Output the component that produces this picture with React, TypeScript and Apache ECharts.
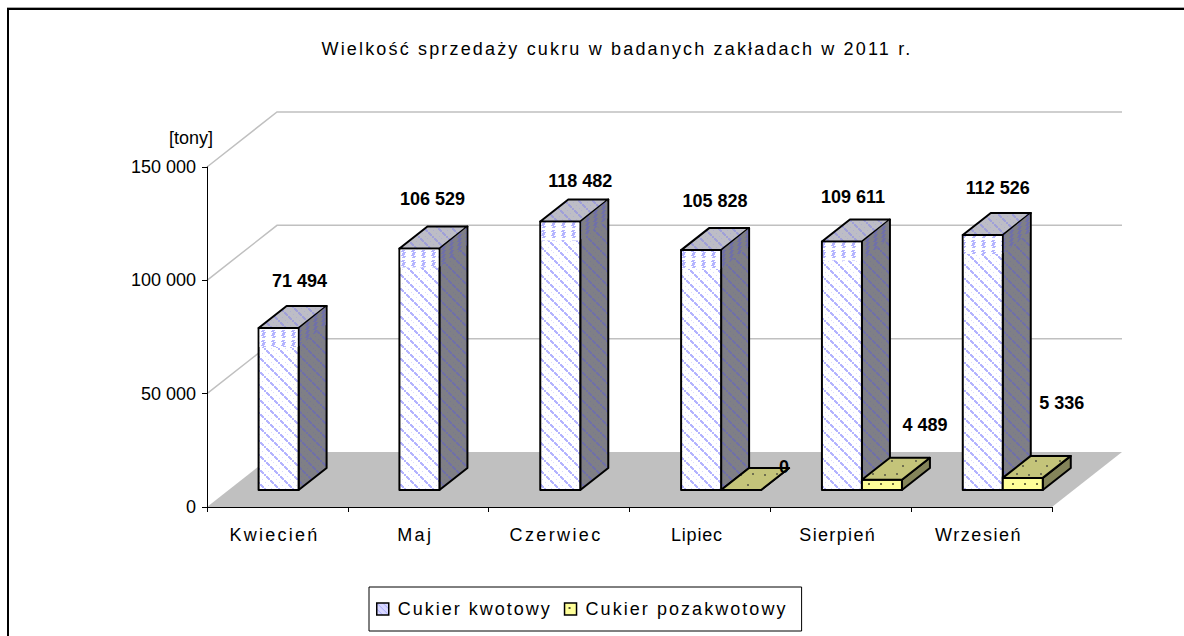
import React, { useEffect, useRef } from "react";
import * as echarts from "echarts";

const categories = ["Kwiecień", "Maj", "Czerwiec", "Lipiec", "Sierpień", "Wrzesień"];
const kwotowy = [71494, 106529, 118482, 105828, 109611, 112526];
const pozakwotowy = [null, null, null, 0, 4489, 5336];
const yTicks = [0, 50000, 100000, 150000];
const seriesNames = ["Cukier kwotowy", "Cukier pozakwotowy"];
const titleText = "Wielkość sprzedaży cukru w badanych zakładach w 2011 r.";

// label nudges relative to the bar's front top-right corner (hand placed in the original)
const nudgeA = [[1, -47], [-7, -50], [0, -40], [-6, -49], [-9, -45], [-5, -47]];
const nudgeB = [[0, 0], [0, 0], [0, 0], [23, -23], [23, -55], [19, -75]];

const WALL_DX = 70, WALL_DY = 55, FRONT_DX = 21.6, FRONT_DY = 17, GAP = 30, BAR_W = 40, D_X = 28, D_Y = 22;

function tile(size: number, bg: string, draw: (c: CanvasRenderingContext2D) => void) {
  const cv = document.createElement("canvas");
  cv.width = size; cv.height = size;
  const c = cv.getContext("2d")!;
  c.fillStyle = bg; c.fillRect(0, 0, size, size);
  draw(c);
  return { image: cv, repeat: "repeat", imageWidth: size, imageHeight: size } as any;
}
const diag = (main: string, soft: string) => (c: CanvasRenderingContext2D) => {
  for (let i = 0; i < 14; i++) {
    c.fillStyle = main;
    if (i % 4 !== 3) c.fillRect(i, i, 2, 2);
    c.fillStyle = soft;
    if (i % 3 === 0) c.fillRect((i + 7) % 14, i, 1, 1);
  }
};
const wave = (main: string) => (c: CanvasRenderingContext2D) => {
  c.fillStyle = main;
  for (let y = 0; y < 8; y += 2) {
    const o = y % 4 === 0 ? 0 : 1;
    c.fillRect(2 + o, y, 3, 1);
    c.fillRect(1 + o, y + 1, 3, 1);
  }
};
const dots = (color: string, pts: number[][]) => (c: CanvasRenderingContext2D) => {
  c.fillStyle = color;
  pts.forEach(([x, y]) => c.fillRect(x, y, 2, 2));
};

export default function App() {
  const ref = useRef<HTMLDivElement>(null);
  useEffect(() => {
    const chart = echarts.init(ref.current!, null, { renderer: "svg" });
    const P = {
      front: tile(14, "#ffffff", diag("#b4b4ff", "#dcdcff")),
      frontTop: tile(10, "#ffffff", wave("#b4b4ff")),
      top: tile(14, "#bdbdc6", diag("#a0a0d8", "#b0b0d0")),
      side: tile(14, "#7f7f86", diag("#7070a8", "#787890")),
      sideTop: tile(8, "#7f7f86", wave("#7070a8")),
      oFront: tile(24, "#ffff99", dots("#707040", [[4, 3], [16, 3]])),
      oTop: tile(24, "#c4c47a", dots("#707050", [[3, 4], [14, 9], [20, 18], [8, 17]])),
      oSide: tile(24, "#84845a", dots("#606040", [[5, 5], [15, 15]])),
      legendA: tile(6, "#d8d8ff", (c) => { c.fillStyle = "#a8a8ff"; for (let i = 0; i < 6; i++) c.fillRect(i, i, 1, 1); }),
      legendB: tile(10, "#ffff99", dots("#505030", [[4, 4]])),
    };
    const poly = (pts: number[][], fill: any, z = 0) => ({
      type: "polygon", z2: z, shape: { points: pts },
      style: { fill, stroke: "#000", lineWidth: 2, lineJoin: "round" },
    });

    const barRender = (idx: number, nudge: number[][]) => (params: any, api: any) => {
      const cat = api.value(0), val = api.value(1);
      const base = api.coord([cat, 0]);
      const topPt = api.coord([cat, val]);
      const bw = api.size([1, 0])[0];
      const x0 = base[0] - bw / 2 + FRONT_DX + GAP + idx * BAR_W;
      const x1 = x0 + BAR_W;
      const y0 = base[1] - FRONT_DY;
      const y1 = topPt[1] - FRONT_DY;
      const children: any[] = [];
      const a = idx === 0;
      children.push(poly([[x1, y0], [x1 + D_X, y0 - D_Y], [x1 + D_X, y1 - D_Y], [x1, y1]], a ? P.side : P.oSide));
      if (y0 - y1 > 0.5) children.push(poly([[x0, y0], [x1, y0], [x1, y1], [x0, y1]], a ? P.front : P.oFront));
      children.push(poly([[x0, y1], [x1, y1], [x1 + D_X, y1 - D_Y], [x0 + D_X, y1 - D_Y]], a ? P.top : P.oTop));
      if (a) {
        children.push({ type: "rect", shape: { x: x0 + 1, y: y1 + 1, width: BAR_W - 2, height: 18 }, style: { fill: P.frontTop } });
        children.push({ type: "polygon", shape: { points: [[x1 + 1, y1], [x1 + D_X - 1, y1 - D_Y + 1], [x1 + D_X - 1, y1 - D_Y + 19], [x1 + 1, y1 + 18]] }, style: { fill: P.sideTop } });
      }
      const [nx, ny] = nudge[cat];
      children.push({
        type: "text", z2: 10,
        style: {
          text: String(val).replace(/\B(?=(\d{3})+$)/g, " "),
          x: x1 + nx, y: y1 + ny, align: "center", verticalAlign: "middle",
          fill: "#000", font: 'bold 18px "Liberation Sans"',
        },
      });
      return { type: "group", children };
    };

    const backdrop = (params: any, api: any) => {
      const v = api.value(0);
      const p = api.coord([0, v]);
      const bw = api.size([1, 0])[0];
      const xL = p[0] - bw / 2;
      const xR = xL + bw * categories.length;
      const y = p[1];
      const line = {
        type: "polyline",
        shape: { points: [[xL, y], [xL + WALL_DX, y - WALL_DY], [xR + WALL_DX, y - WALL_DY]] },
        style: { fill: "none", stroke: "#c0c0c0", lineWidth: 1.5 },
      };
      if (v !== 0) return line;
      return {
        type: "polygon",
        shape: { points: [[xL, y], [xL + WALL_DX, y - WALL_DY], [xR + WALL_DX, y - WALL_DY], [xR, y]] },
        style: { fill: "#c0c0c0" },
      };
    };

    chart.setOption({
      animation: false,
      backgroundColor: "#ffffff",
      title: {
        text: titleText, left: 612, top: 35, textAlign: "center",
        textStyle: { fontFamily: "Liberation Sans", fontSize: 18, fontWeight: "normal", color: "#000" },
      },
      grid: { left: 207, top: 167, width: 845, height: 340 },
      legend: {
        left: 369, top: 587, orient: "horizontal",
        padding: [13, 51, 13, 7],
        itemWidth: 12, itemHeight: 12, itemGap: 40,
        borderColor: "#000", borderWidth: 1, backgroundColor: "#fff", borderRadius: 0,
        textStyle: { fontFamily: "Liberation Sans", fontSize: 18, color: "#000", padding: [0, 0, 0, 4] },
        data: [
          { name: seriesNames[0], icon: "rect", itemStyle: { color: P.legendA, borderColor: "#000", borderWidth: 1.5 } },
          { name: seriesNames[1], icon: "rect", itemStyle: { color: P.legendB, borderColor: "#000", borderWidth: 1.5 } },
        ],
      },
      xAxis: {
        type: "category", data: categories, z: 5,
        axisLine: { lineStyle: { color: "#000", width: 1 } },
        axisTick: { show: true, alignWithLabel: false, length: 5, lineStyle: { color: "#000" } },
        axisLabel: { color: "#000", fontFamily: "Liberation Sans", fontSize: 18, margin: 19, padding: [0, 6, 0, 0] },
      },
      yAxis: {
        type: "value", min: 0, max: 150000, interval: 50000, z: 5,
        name: "[tony]", nameLocation: "end", nameGap: 20,
        nameTextStyle: { color: "#000", fontFamily: "Liberation Sans", fontSize: 18, align: "center", padding: [0, 32, 0, 0] },
        axisLine: { show: true, lineStyle: { color: "#000", width: 1 } },
        axisTick: { show: true, length: 5, lineStyle: { color: "#000" } },
        splitLine: { show: false },
        axisLabel: {
          color: "#000", fontFamily: "Liberation Sans", fontSize: 18, margin: 11,
          formatter: (v: number) => String(v).replace(/\B(?=(\d{3})+$)/g, " "),
        },
      },
      graphic: [
        { type: "rect", silent: true, shape: { x: 7, y: 7, width: 1177, height: 1 }, style: { fill: "#a8a8a8" } },
        { type: "rect", silent: true, shape: { x: 7, y: 8, width: 1177, height: 2 }, style: { fill: "#000" } },
        { type: "rect", silent: true, shape: { x: 7, y: 8, width: 2, height: 628 }, style: { fill: "#000" } },
      ],
      series: [
        { type: "custom", name: "wall", z: 1, silent: true, renderItem: backdrop, data: yTicks.map((v) => [v]), encode: { y: 0 }, clip: false },
        {
          type: "custom", name: seriesNames[0], z: 2, renderItem: barRender(0, nudgeA), clip: false,
          itemStyle: { color: P.legendA, borderColor: "#000", borderWidth: 1.5 },
          encode: { x: 0, y: 1 },
          data: kwotowy.map((v, i) => [i, v]),
        },
        {
          type: "custom", name: seriesNames[1], z: 3, renderItem: barRender(1, nudgeB), clip: false,
          itemStyle: { color: P.legendB, borderColor: "#000", borderWidth: 1.5 },
          encode: { x: 0, y: 1 },
          data: pozakwotowy.map((v, i) => [i, v]).filter((d) => d[1] !== null),
        },
      ],
    });

    // the original's text is set wide: stretch these texts to the original's widths
    const targets: Record<string, number> = {
      [titleText]: 591, "Kwiecień": 90, "Maj": 36, "Czerwiec": 93, "Lipiec": 52, "Sierpień": 77, "Wrzesień": 87,
      [seriesNames[0]]: 154, [seriesNames[1]]: 202,
    };
    ref.current!.querySelectorAll("text").forEach((t) => {
      const s = t.textContent || "";
      const w = targets[s];
      if (w) {
        const natural = (t as SVGTextElement).getComputedTextLength();
        t.style.letterSpacing = `${(w - natural) / s.length}px`;
      }
    });
    return () => chart.dispose();
  }, []);
  return <div ref={ref} style={{ position: "absolute", left: 0, top: 0, width: 1184, height: 636, overflow: "hidden" }} />;
}
